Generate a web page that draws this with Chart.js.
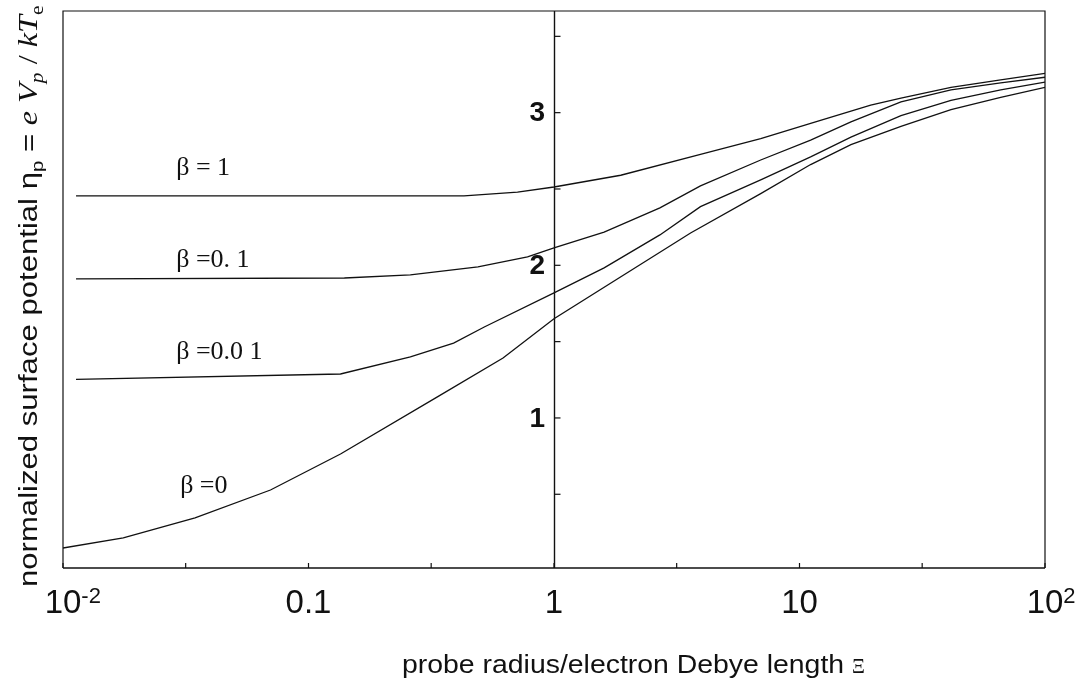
<!DOCTYPE html>
<html>
<head>
<meta charset="utf-8">
<script src="https://cdn.jsdelivr.net/npm/chart.js@4.4.0/dist/chart.umd.min.js"></script>
<style>
html, body { margin: 0; padding: 0; background: #fff; }
#potentialChart { display: block; }
</style>
</head>
<body>
<canvas id="potentialChart" width="1080" height="686"></canvas>
<script>
// ================= DATA =================

const seriesNames = ["β = 1", "β =0. 1", "β =0.0 1", "β =0"];

// beta = 1
const xBeta1 = [0.0113, 0.43, 0.71, 1, 1.87, 3.95, 6.95, 11.1, 19.5, 25.9, 41.4, 66, 100];
const yBeta1 = [2.455, 2.455, 2.48, 2.513, 2.59, 2.727, 2.83, 2.93, 3.05, 3.095, 3.165, 3.215, 3.258];

// beta = 0.1
const xBeta01 = [0.0113, 0.14, 0.26, 0.49, 0.78, 1, 1.6, 2.7, 3.95, 6.95, 11.1, 16.2, 25.9, 41.4, 66, 100];
const yBeta01 = [1.911, 1.917, 1.937, 1.99, 2.055, 2.114, 2.218, 2.376, 2.52, 2.69, 2.82, 2.94, 3.07, 3.15, 3.195, 3.232];

// beta = 0.01
const xBeta001 = [0.0113, 0.135, 0.26, 0.39, 0.52, 1, 1.6, 2.7, 3.95, 6.95, 11.1, 16.2, 25.9, 41.4, 66, 100];
const yBeta001 = [1.253, 1.288, 1.40, 1.49, 1.596, 1.819, 1.983, 2.199, 2.384, 2.56, 2.71, 2.84, 2.98, 3.08, 3.15, 3.20];

// beta = 0
const xBeta0 = [0.01, 0.0176, 0.0345, 0.07, 0.135, 0.335, 0.62, 1, 3.6, 6.95, 11.1, 16.2, 25.9, 41.4, 66, 100];
const yBeta0 = [0.148, 0.214, 0.345, 0.528, 0.764, 1.138, 1.393, 1.65, 2.212, 2.47, 2.66, 2.79, 2.91, 3.02, 3.10, 3.166];

// axis ticks
const xTickValues = [0.01, 0.1, 1, 10, 100];
const xTickBase = ["10", "0.1", "1", "10", "10"];
const xTickSup = ["-2", "", "", "", "2"];
const xMinorTicks = [0.0316, 0.316, 3.16, 31.6];
const yTickValues = [1, 2, 3];
const yTickLabels = ["1", "2", "3"];
const yMinorTicks = [0.5, 1.5, 2.5, 3.5];

// ================= LAYOUT / STYLE =================

// where the curve names sit (data coordinates, left/baseline)
const nameAnchors = [
    { x: 0.0289, y: 2.592 },
    { x: 0.0289, y: 1.989 },
    { x: 0.0289, y: 1.387 },
    { x: 0.0300, y: 0.509 }
];

const INK = "#111";

function toPoints(xs, ys){
    return xs.map((x, i) => ({ x: x, y: ys[i] }));
}

function lineSet(label, xs, ys){
    return {
        label: label,
        data: toPoints(xs, ys),
        borderColor: INK,
        borderWidth: 1.3,
        pointRadius: 0,
        tension: 0,
        fill: false
    };
}

// text of the y-axis title, drawn as runs (rotated)
const yTitleRuns = [
    { text: "normalized surface potential ", font: "26px 'Liberation Sans', Arial, sans-serif", dy: 0 },
    { text: "η", font: "26px 'Liberation Sans', Arial, sans-serif", dy: 0 },
    { text: "p", font: "17px 'Liberation Sans', Arial, sans-serif", dy: 6 },
    { text: " = ", font: "26px 'Liberation Sans', Arial, sans-serif", dy: 0 },
    { text: "e ", font: "italic 27px 'Liberation Serif', serif", dy: 0 },
    { text: "V", font: "italic 27px 'Liberation Serif', serif", dy: 0 },
    { text: "p", font: "italic 18px 'Liberation Serif', serif", dy: 6 },
    { text: " / ", font: "27px 'Liberation Serif', serif", dy: 0 },
    { text: "kT", font: "italic 27px 'Liberation Serif', serif", dy: 0 },
    { text: "e", font: "18px 'Liberation Serif', serif", dy: 6 }
];

// ================= PAPER AXES PLUGIN =================

const paperAxes = {
    id: "paperAxes",

    beforeDatasetsDraw(chart){
        const ctx = chart.ctx;
        const area = chart.chartArea;
        const xs = chart.scales.x;
        const ys = chart.scales.y;

        ctx.save();
        ctx.strokeStyle = INK;

        // frame
        ctx.lineWidth = 1.2;
        ctx.beginPath();
        ctx.moveTo(area.left, area.bottom);
        ctx.lineTo(area.left, area.top);
        ctx.lineTo(area.right, area.top);
        ctx.lineTo(area.right, area.bottom);
        ctx.stroke();

        ctx.lineWidth = 1.6;
        ctx.beginPath();
        ctx.moveTo(area.left, area.bottom);
        ctx.lineTo(area.right, area.bottom);
        ctx.stroke();

        // vertical axis placed at x = 1
        const ax = Math.round(xs.getPixelForValue(1)) + 0.5;
        ctx.lineWidth = 1.4;
        ctx.beginPath();
        ctx.moveTo(ax, area.top);
        ctx.lineTo(ax, area.bottom);
        ctx.stroke();

        // y ticks, pointing right
        ctx.lineWidth = 1.2;
        yTickValues.concat(yMinorTicks).forEach(v => {
            const py = ys.getPixelForValue(v);
            ctx.beginPath();
            ctx.moveTo(ax, py);
            ctx.lineTo(ax + 6, py);
            ctx.stroke();
        });

        // x ticks, pointing up
        xTickValues.concat(xMinorTicks).forEach(v => {
            const px = xs.getPixelForValue(v);
            ctx.beginPath();
            ctx.moveTo(px, area.bottom);
            ctx.lineTo(px, area.bottom - 5);
            ctx.stroke();
        });

        ctx.restore();
    },

    afterDraw(chart){
        const ctx = chart.ctx;
        const area = chart.chartArea;
        const xs = chart.scales.x;
        const ys = chart.scales.y;
        const ax = xs.getPixelForValue(1);

        ctx.save();
        ctx.fillStyle = INK;

        // y tick labels
        ctx.font = "bold 28px 'Liberation Sans', Arial, sans-serif";
        ctx.textAlign = "right";
        ctx.textBaseline = "middle";
        yTickValues.forEach((v, i) => {
            ctx.fillText(yTickLabels[i], ax - 9, ys.getPixelForValue(v) + 1);
        });

        // x tick labels with superscripts
        ctx.textBaseline = "alphabetic";
        xTickValues.forEach((v, i) => {
            const px = xs.getPixelForValue(v);
            ctx.font = "33px 'Liberation Sans', Arial, sans-serif";
            ctx.textAlign = "center";
            ctx.fillText(xTickBase[i], px, area.bottom + 45);
            if(xTickSup[i]){
                const w = ctx.measureText(xTickBase[i]).width;
                ctx.font = "22px 'Liberation Sans', Arial, sans-serif";
                ctx.textAlign = "left";
                ctx.fillText(xTickSup[i], px + w / 2, area.bottom + 35);
            }
        });

        // curve names
        ctx.font = "26px 'Liberation Serif', 'Times New Roman', serif";
        ctx.textAlign = "left";
        seriesNames.forEach((name, i) => {
            const a = nameAnchors[i];
            ctx.fillText(name, xs.getPixelForValue(a.x), ys.getPixelForValue(a.y));
        });

        // x axis title
        const xTitle = "probe radius/electron Debye length ";
        ctx.font = "26px 'Liberation Sans', Arial, sans-serif";
        const xw = ctx.measureText(xTitle).width;
        const xStretch = 450 / xw;
        ctx.save();
        ctx.translate(402, 673);
        ctx.scale(xStretch, 1);
        ctx.fillText(xTitle, 0, 0);
        ctx.restore();
        ctx.font = "20px 'Liberation Serif', serif";
        ctx.fillText("Ξ", 402 + xw * xStretch, 673);

        // y axis title (rotated, mixed fonts)
        ctx.font = yTitleRuns[0].font;
        const yStretch = 389 / ctx.measureText("normalized surface potential").width;
        ctx.save();
        ctx.translate(37, 587);
        ctx.rotate(-Math.PI / 2);
        ctx.scale(yStretch, 1);
        let pos = 0;
        yTitleRuns.forEach(r => {
            ctx.font = r.font;
            ctx.fillText(r.text, pos, r.dy);
            pos += ctx.measureText(r.text).width;
        });
        ctx.restore();

        ctx.restore();
    }
};

// ================= CHART =================

let potentialChart;

function drawChart(){
    const ctx = document.getElementById("potentialChart");

    if(potentialChart){
        potentialChart.destroy();
    }

    potentialChart = new Chart(ctx, {
        type: "line",
        data: {
            datasets: [
                lineSet(seriesNames[0], xBeta1, yBeta1),
                lineSet(seriesNames[1], xBeta01, yBeta01),
                lineSet(seriesNames[2], xBeta001, yBeta001),
                lineSet(seriesNames[3], xBeta0, yBeta0)
            ]
        },
        options: {
            responsive: false,
            animation: false,
            devicePixelRatio: 1,
            layout: {
                padding: { left: 63, right: 35, top: 11, bottom: 118 }
            },
            plugins: {
                legend: { display: false },
                tooltip: { enabled: false }
            },
            scales: {
                x: { type: "logarithmic", min: 0.01, max: 100, display: false },
                y: { type: "linear", min: 0.017, max: 3.666, display: false }
            }
        },
        plugins: [paperAxes]
    });
}

document.addEventListener("DOMContentLoaded", function(){
    drawChart();
});
</script>
</body>
</html>
